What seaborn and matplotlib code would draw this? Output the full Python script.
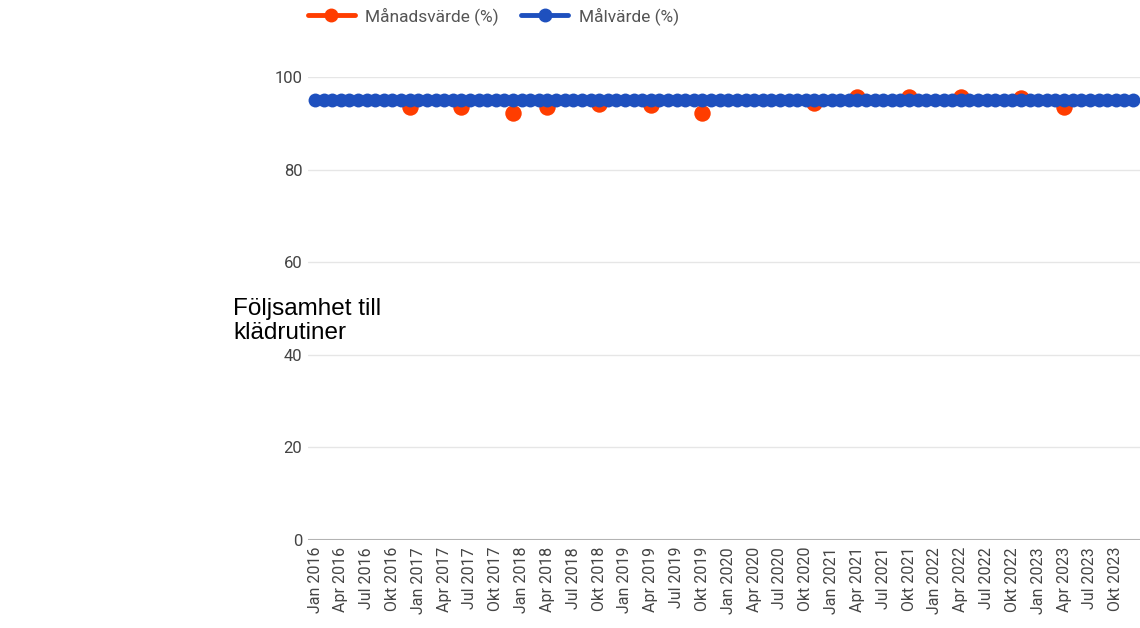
import numpy as np
import pandas as pd
import matplotlib
matplotlib.use("Agg")
import matplotlib.pyplot as plt
from matplotlib.lines import Line2D
import seaborn as sns

# ---- data ----
month_names = ["Jan", "Feb", "Mar", "Apr", "Maj", "Jun", "Jul", "Aug", "Sep", "Okt", "Nov", "Dec"]
years = [2016, 2017, 2018, 2019, 2020, 2021, 2022, 2023]
months = [f"{m} {y}" for y in years for m in month_names]

red_months = ["Dec 2016", "Jun 2017", "Dec 2017", "Apr 2018", "Okt 2018", "Apr 2019",
              "Okt 2019", "Nov 2020", "Apr 2021", "Okt 2021", "Apr 2022", "Nov 2022", "Apr 2023"]
red_values = [93.6, 93.6, 92.2, 93.6, 94.2, 94.0, 92.2, 94.3, 95.7, 95.7, 95.7, 95.5, 93.6]
target_value = 95

tick_labels = [f"{m} {y}" for y in years for m in ["Jan", "Apr", "Jul", "Okt"]]

series_names = ["Månadsvärde (%)", "Målvärde (%)"]
title_text = "Följsamhet till\nklädrutiner"

RED = "#ff3d00"
BLUE = "#1e50be"

# ---- frames ----
idx = {m: i for i, m in enumerate(months)}
df_red = pd.DataFrame({"x": [idx[m] for m in red_months], "y": red_values})
df_blue = pd.DataFrame({"x": list(range(len(months))), "y": [target_value] * len(months)})

sns.set_style("white")
plt.rcParams["font.family"] = ["Roboto", "DejaVu Sans"]

fig = plt.figure(figsize=(11.4, 6.28), dpi=100)
ax = fig.add_axes([308 / 1140, 1 - 540 / 628, 1 - 308 / 1140, (540 - 77) / 628])

sns.scatterplot(data=df_red, x="x", y="y", ax=ax, color=RED, s=140, linewidth=0,
                zorder=3, legend=False)
sns.lineplot(data=df_blue, x="x", y="y", ax=ax, color=BLUE, linewidth=4, marker="o",
             markersize=10, markeredgewidth=0, zorder=4, legend=False)

x0 = 315
step = 8.61
ax.set_xlim(-(x0 - 308) / step, (1140 - x0) / step)
ax.set_ylim(0, 100)

ax.set_yticks([0, 20, 40, 60, 80, 100])
ax.set_yticklabels(["0", "20", "40", "60", "80", "100"])
ax.grid(axis="y", color="#e6e6e6", linewidth=1)
ax.grid(axis="x", visible=False)
ax.axhline(0, color="#b3b3b3", linewidth=1.5, zorder=2)
for s in ax.spines.values():
    s.set_visible(False)

ax.set_xticks([idx[t] for t in tick_labels])
ax.set_xticklabels(tick_labels, rotation=90)
ax.tick_params(axis="x", length=0, pad=5, labelsize=11.5, labelcolor="#444444")
ax.tick_params(axis="y", length=0, pad=4, labelsize=12, labelcolor="#444444")
ax.set_xlabel("")
ax.set_ylabel("")

fig.text(233 / 1140, 1 - 321 / 628, title_text, ha="left", va="center",
         fontsize=17.5, family=["Liberation Sans", "DejaVu Sans"], color="#000000",
         linespacing=1.15)

handles = [Line2D([0], [0], color=RED, lw=3.5, marker="o", markersize=9),
           Line2D([0], [0], color=BLUE, lw=3.5, marker="o", markersize=9)]
fig.legend(handles, series_names, loc="center left", bbox_to_anchor=(308 / 1140, 1 - 16 / 628),
           ncol=2, frameon=False, fontsize=12.5, labelcolor="#555555", handlelength=2.7,
           handletextpad=0.6, columnspacing=1.3, borderpad=0, borderaxespad=0)

fig.savefig("out.png", dpi=100)
